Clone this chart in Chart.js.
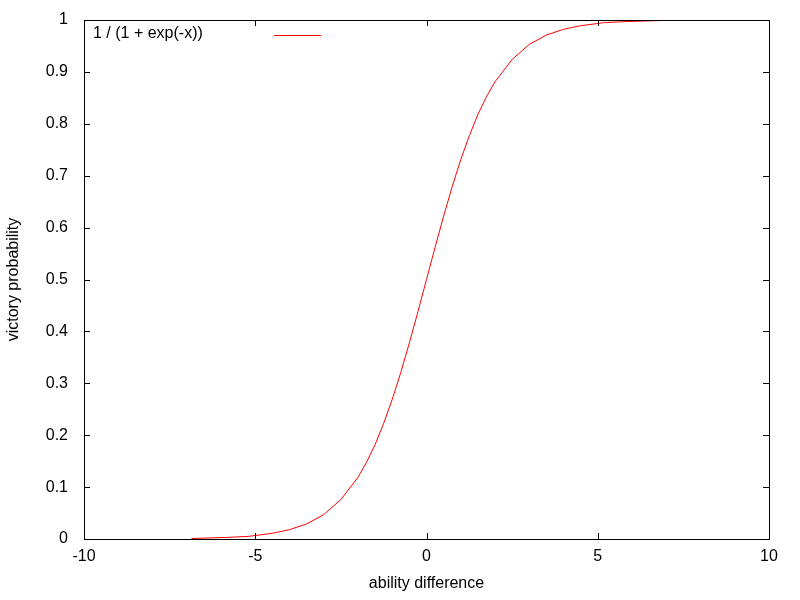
<!DOCTYPE html>
<html>
<head>
<meta charset="utf-8">
<script src="https://cdn.jsdelivr.net/npm/chart.js@4.4.0/dist/chart.umd.min.js"></script>
<style>
  html, body { margin: 0; padding: 0; background: #fff; }
  #wrap { width: 800px; height: 600px; }
</style>
</head>
<body>
<div id="wrap"><canvas id="grafico" width="800" height="600"></canvas></div>
<script>
// valores
var xValues = [-6.86, -5.86, -5.2, -4.5, -4, -3.5, -3, -2.5, -2, -1.75, -1.5, -1.25, -1, -0.75, -0.5, -0.25,
               0, 0.25, 0.5, 0.75, 1, 1.25, 1.5, 1.75, 2, 2.5, 3, 3.5, 4, 4.5, 5.2, 5.86, 6.86];
var yValues = [0.001, 0.003, 0.005, 0.011, 0.018, 0.029, 0.047, 0.076, 0.119, 0.148, 0.182, 0.223, 0.269, 0.321, 0.378, 0.438,
               0.5, 0.562, 0.622, 0.679, 0.731, 0.777, 0.818, 0.852, 0.881, 0.924, 0.953, 0.971, 0.982, 0.989, 0.995, 0.997, 0.999];
var xTicks = [-10, -5, 0, 5, 10];
var yTicks = [0, 0.1, 0.2, 0.3, 0.4, 0.5, 0.6, 0.7, 0.8, 0.9, 1];
var xTickLabels = ['-10', '-5', '0', '5', '10'];
var yTickLabels = ['0', '0.1', '0.2', '0.3', '0.4', '0.5', '0.6', '0.7', '0.8', '0.9', '1'];
var seriesLabel = '1 / (1 + exp(-x))';
var xTitle = 'ability difference';
var yTitle = 'victory probability';

var FONT = 'Liberation Sans, Arial, sans-serif';
var FSIZE = 16;

var puntos = xValues.map(function (x, i) { return { x: x, y: yValues[i] }; });

// marco, ticks hacia dentro, leyenda y titulos de ejes
var gnuplotLook = {
    id: 'gnuplotLook',
    afterDatasetsDraw: function (chart) {
        var ctx = chart.ctx;
        var a = chart.chartArea;
        var sx = chart.scales.x, sy = chart.scales.y;
        var tl = 6;
        ctx.save();
        ctx.strokeStyle = '#000';
        ctx.lineWidth = 1;
        ctx.beginPath();
        xTicks.forEach(function (v) {
            var px = Math.round(sx.getPixelForValue(v)) + 0.5;
            ctx.moveTo(px, a.bottom); ctx.lineTo(px, a.bottom - tl);
            ctx.moveTo(px, a.top); ctx.lineTo(px, a.top + tl);
        });
        yTicks.forEach(function (v) {
            var py = Math.round(sy.getPixelForValue(v)) + 0.5;
            ctx.moveTo(a.left, py); ctx.lineTo(a.left + tl, py);
            ctx.moveTo(a.right, py); ctx.lineTo(a.right - tl, py);
        });
        ctx.stroke();
        ctx.strokeRect(Math.round(a.left) + 0.5, Math.round(a.top) + 0.5,
                       Math.round(a.right - a.left), Math.round(a.bottom - a.top));

        // leyenda
        ctx.font = FSIZE + 'px ' + FONT;
        ctx.fillStyle = '#000';
        ctx.textAlign = 'left';
        ctx.textBaseline = 'middle';
        ctx.fillText(seriesLabel, 93, 34);
        ctx.strokeStyle = '#ff0000';
        ctx.beginPath();
        ctx.moveTo(274, 35.5); ctx.lineTo(321, 35.5);
        ctx.stroke();

        // titulos
        ctx.fillStyle = '#000';
        ctx.textAlign = 'center';
        ctx.fillText(xTitle, (a.left + a.right) / 2, 584);
        ctx.translate(14, (a.top + a.bottom) / 2);
        ctx.rotate(-Math.PI / 2);
        ctx.fillText(yTitle, 0, 0);
        ctx.restore();
    }
};

var ctx = document.getElementById('grafico').getContext('2d');
var miGrafico = new Chart(ctx, {
    type: 'line',
    data: {
        datasets: [{
            label: seriesLabel,
            data: puntos,
            borderColor: '#ff0000',
            borderWidth: 1,
            pointRadius: 0,
            tension: 0,
            fill: false
        }]
    },
    options: {
        responsive: false,
        animation: false,
        layout: { padding: { left: 0, right: 31, top: 20, bottom: 0 } },
        plugins: {
            legend: { display: false },
            tooltip: { enabled: false }
        },
        scales: {
            x: {
                type: 'linear',
                min: -10,
                max: 10,
                afterBuildTicks: function (s) { s.ticks = xTicks.map(function (v) { return { value: v }; }); },
                afterFit: function (s) { s.height = 61; s.paddingLeft = 0; s.paddingRight = 0; },
                grid: { display: false, drawTicks: false },
                border: { display: false },
                ticks: {
                    padding: 8, color: '#000', font: { family: FONT, size: FSIZE }, maxRotation: 0,
                    callback: function (v, i) { return xTickLabels[i]; }
                }
            },
            y: {
                min: 0,
                max: 1,
                afterBuildTicks: function (s) { s.ticks = yTicks.map(function (v) { return { value: v }; }); },
                afterFit: function (s) { s.width = 84; s.paddingTop = 0; s.paddingBottom = 0; },
                grid: { display: false, drawTicks: false },
                border: { display: false },
                ticks: {
                    padding: 16, color: '#000', font: { family: FONT, size: FSIZE },
                    callback: function (v, i) { return yTickLabels[i]; }
                }
            }
        }
    },
    plugins: [gnuplotLook]
});
</script>
</body>
</html>
